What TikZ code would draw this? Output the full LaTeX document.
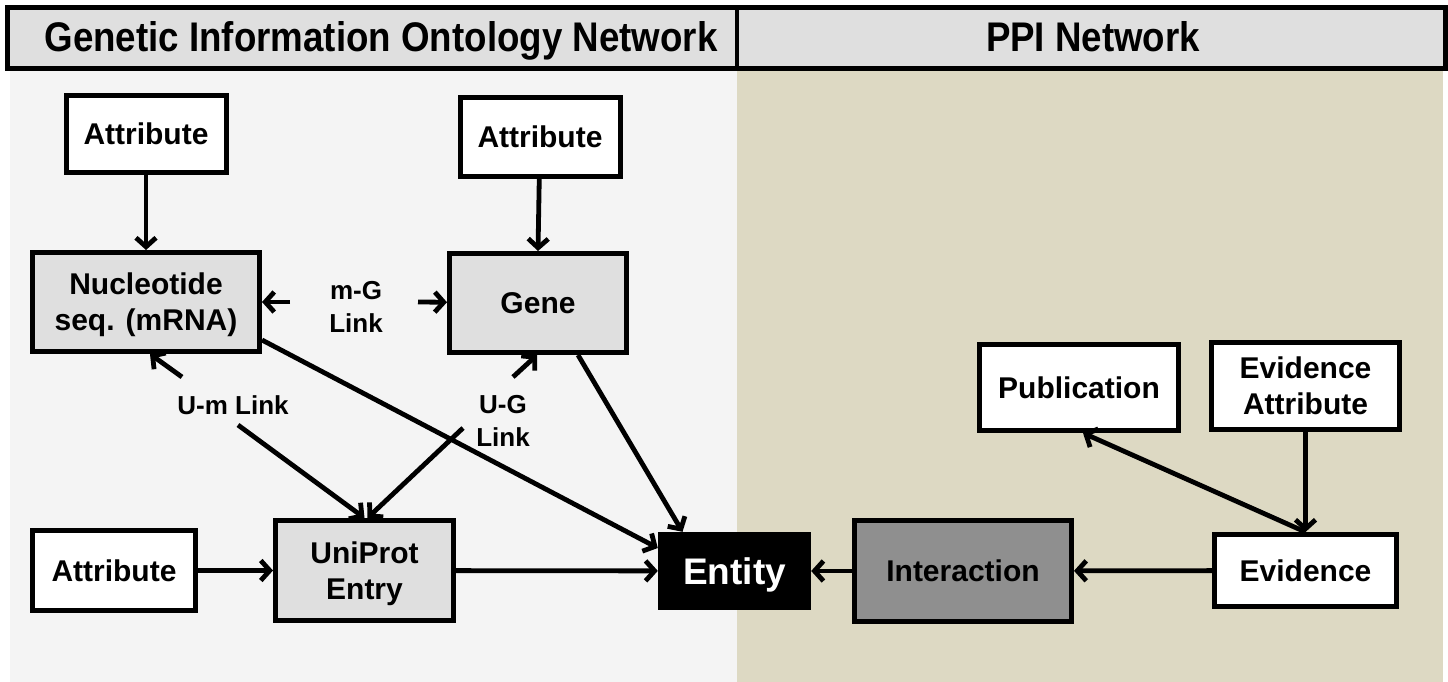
\documentclass[tikz,border=0pt]{standalone}
\usepackage{fontspec}
\setmainfont{Liberation Sans}
\usetikzlibrary{arrows.meta}
\definecolor{panelgray}{HTML}{F4F4F4}
\definecolor{headgray}{HTML}{DFDFDF}
\definecolor{boxgray}{HTML}{DFDFDF}
\definecolor{ppibeige}{HTML}{DDD9C3}
\definecolor{midgray}{HTML}{8F8F8F}
\newcommand\dgbody{\fontsize{30bp}{36bp}\selectfont\bfseries}
\newcommand\dglabel{\fontsize{26bp}{33bp}\selectfont\bfseries}
\newcommand\dgentity{\fontsize{37bp}{44bp}\selectfont\bfseries}
\begin{document}
\begin{tikzpicture}[x=1bp,y=-1bp,
  box/.style={draw=black, line width=5bp, inner sep=0pt, align=center, text depth=0pt, font=\dgbody},
  wbox/.style={box, fill=white},
  gbox/.style={box, fill=boxgray},
  lbl/.style={inner sep=0pt, align=center, text depth=0pt, font=\dglabel},
  arr/.style={line width=4.8bp, -{Straight Barb[length=9bp,width=20bp]}}
]
% canvas and the two panels
\useasboundingbox (0,0) rectangle (1448,682);
\fill[white] (0,0) rectangle (1448,682);
\fill[panelgray] (10,70) rectangle (737,682);
\fill[ppibeige] (737,70) rectangle (1443,682);

% header bar
\draw[line width=5bp, fill=headgray] (7,8) rectangle (1445,69);
\draw[line width=4bp] (737,8) -- (737,69);
\node[anchor=base, inner sep=0pt] (hdrL) at (381,52)
  {\resizebox{673bp}{30bp}{\bfseries Genetic Information Ontology Network}};
\node[anchor=base, inner sep=0pt] (hdrR) at (1093,52)
  {\resizebox{214bp}{30bp}{\bfseries PPI Network}};

% genetic information ontology network
\node[wbox, minimum width=160bp, minimum height=77bp] (attrA) at (146,134) {Attribute};
\node[wbox, minimum width=160bp, minimum height=78bp] (attrB) at (540,137) {Attribute};
\node[gbox, minimum width=227bp, minimum height=99bp] (nuc) at (146,302) {Nucleotide\\seq. (mRNA)};
\node[gbox, minimum width=177bp, minimum height=99bp] (gene) at (538,303) {Gene};
\node[gbox, minimum width=178bp, minimum height=100bp] (uni) at (364.5,570.5) {UniProt\\Entry};
\node[wbox, minimum width=163bp, minimum height=80bp] (attrC) at (114,570.5) {Attribute};
\node[fill=black, text=white, inner sep=0pt, text depth=0pt, minimum width=153bp, minimum height=78bp,
      font=\dgentity] (entity) at (734.5,571) {Entity};

% PPI network
\node[box, fill=midgray, minimum width=217bp, minimum height=101bp] (inter) at (963,571) {Interaction};
\node[wbox, minimum width=182bp, minimum height=72bp] (evid) at (1305.5,570.5) {Evidence};
\node[wbox, minimum width=199bp, minimum height=86bp] (pub) at (1079,387.5) {Publication};
\node[wbox, minimum width=188bp, minimum height=87bp] (evattr) at (1305.5,386) {Evidence\\Attribute};

% link labels
\node[lbl] (mg) at (356,307) {m-G\\Link};
\node[lbl] (um) at (233,405) {U-m Link};
\node[lbl] (ug) at (503,421) {U-G\\Link};

\coordinate (mgL) at (290,302);
\coordinate (mgR) at (418,302);
\coordinate (umA) at (182,377);
\coordinate (umB) at (238,425);
\coordinate (ugA) at (513,377);
\coordinate (ugB) at (463,428);

% connectors
\draw[arr] (attrA) -- (nuc);
\draw[arr] (attrB) -- (gene.north);
\draw[arr] (attrC) -- (uni);
\draw[arr] (uni) -- (entity);
\draw[arr] (mgL) -- (nuc);
\draw[arr] (mgR) -- (gene);
\draw[arr] (umA) -- ([xshift=4bp]nuc.south);
\draw[arr] (umB) -- (uni.north);
\draw[arr] (ugA) -- ([xshift=-1bp]gene.south);
\draw[arr] (ugB) -- ([xshift=3bp]uni.north);
\draw[arr] ([yshift=-38bp]nuc.east) -- ([yshift=23bp]entity.west);
\draw[arr] ([xshift=40bp]gene.south) -- ([xshift=-52bp]entity.north);
\draw[arr] (inter) -- (entity);
\draw[arr] (evid) -- (inter);
\draw[arr] (evattr) -- (evid);
\draw[arr] (evid.north) -- ([xshift=4bp]pub.south);
\end{tikzpicture}
\end{document}
